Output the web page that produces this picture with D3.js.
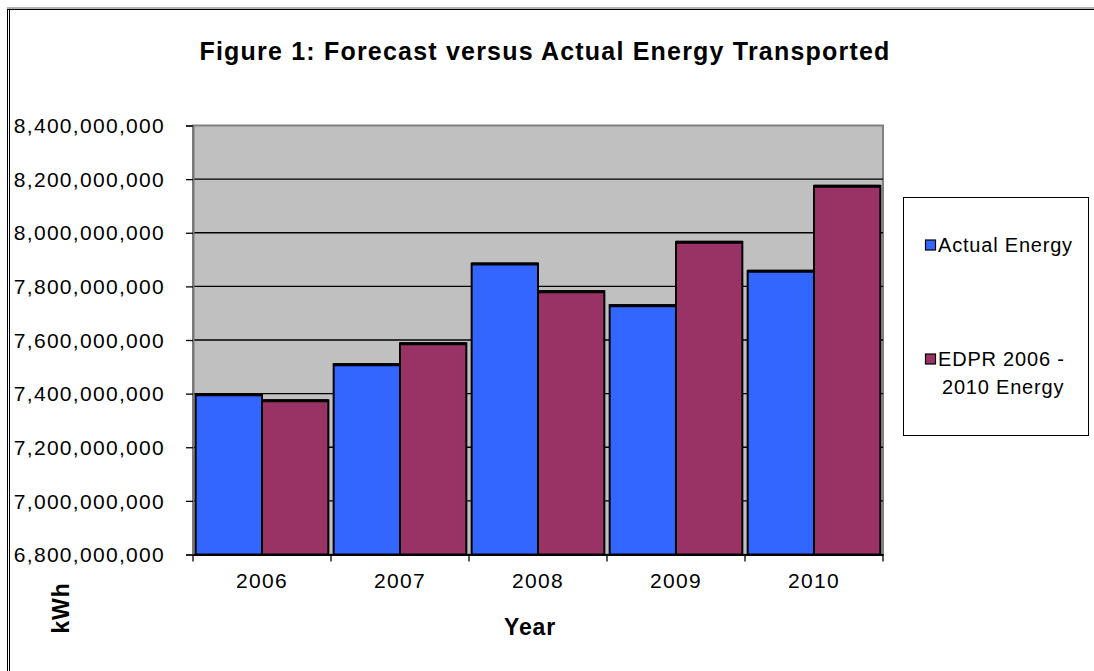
<!DOCTYPE html>
<html>
<head>
<meta charset="utf-8">
<script src="https://cdn.jsdelivr.net/npm/d3@7"></script>
<style>
  html, body { margin: 0; padding: 0; background: #fff; }
  svg { display: block; font-family: "Liberation Sans", Arial, sans-serif; }
</style>
</head>
<body>
<svg id="chart" width="1094" height="671"></svg>
<script>
// Yearly energy transported (kWh): actual vs. EDPR forecast
const years = ["2006", "2007", "2008", "2009", "2010"];
const actualEnergy = [7398000000, 7510000000, 7885000000, 7730000000, 7858000000];
const edprEnergy = [7375000000, 7588000000, 7782000000, 7966000000, 8175000000];
const seriesNames = ["Actual Energy", "EDPR 2006 - 2010 Energy"];
const seriesColors = ["#3366FF", "#993366"];
const yTicks = [6800000000, 7000000000, 7200000000, 7400000000, 7600000000, 7800000000, 8000000000, 8200000000, 8400000000];

const svg = d3.select("#chart");
const plot = { left: 193, top: 125.5, right: 883, bottom: 554.5 };
const labelFont = "Liberation Sans, Arial, sans-serif";

// outer frame (top and left edges visible)
svg.append("line").attr("x1", 7).attr("x2", 1094).attr("y1", 8).attr("y2", 8)
  .attr("stroke", "#999").attr("stroke-width", 1.5);
svg.append("line").attr("x1", 7).attr("x2", 1094).attr("y1", 9.5).attr("y2", 9.5)
  .attr("stroke", "#000").attr("stroke-width", 1);
svg.append("line").attr("x1", 7.5).attr("x2", 7.5).attr("y1", 9).attr("y2", 671)
  .attr("stroke", "#000").attr("stroke-width", 1);
svg.append("line").attr("x1", 9.5).attr("x2", 9.5).attr("y1", 9).attr("y2", 671)
  .attr("stroke", "#000").attr("stroke-width", 1);

const x = d3.scaleBand().domain(years).range([plot.left, plot.right]).paddingInner(0).paddingOuter(0);
const inner = d3.scaleBand().domain(seriesNames).range([0, x.bandwidth()]).paddingOuter(0.04).paddingInner(0);
const y = d3.scaleLinear().domain([6800000000, 8400000000]).range([plot.bottom, plot.top]);

// plot background
svg.append("rect")
  .attr("x", plot.left).attr("y", plot.top)
  .attr("width", plot.right - plot.left).attr("height", plot.bottom - plot.top)
  .attr("fill", "#C0C0C0").attr("stroke", "#808080").attr("stroke-width", 2);

// horizontal gridlines
svg.append("g").selectAll("line")
  .data(yTicks.filter(d => d > 6800000000 && d < 8400000000))
  .join("line")
  .attr("x1", plot.left).attr("x2", plot.right)
  .attr("y1", d => y(d)).attr("y2", d => y(d))
  .attr("stroke", "#000").attr("stroke-width", 1.3);

// y axis
const fmt = d3.format(",");
const yAxis = svg.append("g")
  .attr("transform", `translate(${plot.left},0)`)
  .call(d3.axisLeft(y).tickValues(yTicks).tickFormat(fmt).tickSize(7).tickPadding(21));
yAxis.select(".domain").attr("stroke", "#777").attr("stroke-width", 2);
yAxis.selectAll(".tick line").attr("stroke", "#000").attr("stroke-width", 1.3);
yAxis.selectAll("text").attr("font-size", 21).attr("letter-spacing", 1.3).attr("fill", "#000")
  .attr("font-family", labelFont).attr("dy", "0.34em");

// bars
const data = years.map((yr, i) => ({ year: yr, values: [actualEnergy[i], edprEnergy[i]] }));
const groups = svg.append("g").selectAll("g")
  .data(data).join("g")
  .attr("transform", d => `translate(${x(d.year)},0)`);
groups.selectAll("rect")
  .data(d => d.values.map((v, j) => ({ v, j })))
  .join("rect")
  .attr("x", d => inner(seriesNames[d.j]))
  .attr("width", inner.bandwidth())
  .attr("y", d => y(d.v))
  .attr("height", d => plot.bottom - y(d.v))
  .attr("fill", d => seriesColors[d.j])
  .attr("stroke", "#000").attr("stroke-width", 2);
// heavier top edge on each bar
groups.selectAll("line.top")
  .data(d => d.values.map((v, j) => ({ v, j })))
  .join("line").attr("class", "top")
  .attr("x1", d => inner(seriesNames[d.j]))
  .attr("x2", d => inner(seriesNames[d.j]) + inner.bandwidth())
  .attr("y1", d => y(d.v) + 0.5).attr("y2", d => y(d.v) + 0.5)
  .attr("stroke", "#000").attr("stroke-width", 3);

// x axis
const xAxis = svg.append("g")
  .attr("transform", `translate(0,${plot.bottom})`)
  .call(d3.axisBottom(x).tickSize(0).tickPadding(19));
xAxis.select(".domain").attr("stroke", "#000").attr("stroke-width", 2);
xAxis.selectAll("text").attr("font-size", 21).attr("letter-spacing", 1.3).attr("fill", "#000")
  .attr("font-family", labelFont);
// tick marks at category boundaries
svg.append("g").selectAll("line")
  .data(years.concat(["end"]))
  .join("line")
  .attr("x1", (d, i) => i < years.length ? x(d) : plot.right)
  .attr("x2", (d, i) => i < years.length ? x(d) : plot.right)
  .attr("y1", plot.bottom).attr("y2", plot.bottom + 7)
  .attr("stroke", "#000").attr("stroke-width", 1.3);

// title
svg.append("text")
  .attr("x", 545).attr("y", 60)
  .attr("text-anchor", "middle")
  .attr("font-size", 25).attr("font-weight", "bold").attr("letter-spacing", 1.2)
  .text("Figure 1: Forecast versus Actual Energy Transported");

// axis titles
svg.append("text")
  .attr("x", 530).attr("y", 635)
  .attr("text-anchor", "middle")
  .attr("font-size", 23).attr("font-weight", "bold").attr("letter-spacing", 0.8)
  .text("Year");
svg.append("text")
  .attr("transform", "translate(69,608) rotate(-90)")
  .attr("text-anchor", "middle")
  .attr("font-size", 23).attr("font-weight", "bold").attr("letter-spacing", 0.8)
  .text("kWh");

// legend
const legend = svg.append("g");
legend.append("rect")
  .attr("x", 903.5).attr("y", 197.5).attr("width", 185).attr("height", 238)
  .attr("fill", "#fff").attr("stroke", "#000").attr("stroke-width", 1);
const legendRows = [
  { lines: ["Actual Energy"], sy: 240 },
  { lines: ["EDPR 2006 -", "2010 Energy"], sy: 354 }
];
legendRows.forEach((row, i) => {
  legend.append("rect")
    .attr("x", 925.5).attr("y", row.sy).attr("width", 10).attr("height", 10)
    .attr("fill", seriesColors[i]).attr("stroke", "#000").attr("stroke-width", 1.2);
  const t = legend.append("text").attr("font-size", 20).attr("letter-spacing", 0.8);
  row.lines.forEach((ln, k) => {
    t.append("tspan")
      .attr("x", k === 0 ? 938 : 942)
      .attr("y", row.sy + 12 + k * 28)
      .text(ln);
  });
});
</script>
</body>
</html>
